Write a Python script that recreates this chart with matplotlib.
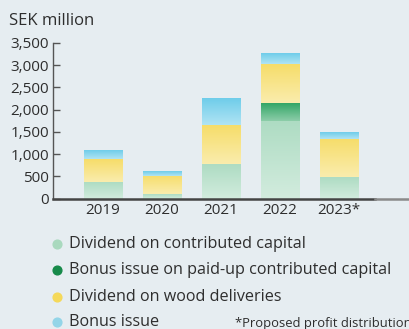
import numpy as np
import matplotlib
matplotlib.use("Agg")
import matplotlib.pyplot as plt
from matplotlib.colors import to_rgb
from matplotlib.lines import Line2D

# Profit distribution, SEK million
years = ["2019", "2020", "2021", "2022", "2023*"]
dividend_contributed = [375, 100, 785, 1740, 485]
bonus_paid_up = [0, 0, 0, 405, 0]
dividend_wood = [515, 410, 865, 875, 855]
bonus_issue = [180, 90, 585, 225, 135]

series_names = [
    "Dividend on contributed capital",
    "Bonus issue on paid-up contributed capital",
    "Dividend on wood deliveries",
    "Bonus issue",
]
series_values = [dividend_contributed, bonus_paid_up, dividend_wood, bonus_issue]
bar_colors = ["#aedcc3", "#2fa463", "#f6dd6a", "#6fcdea"]
legend_colors = ["#a9d9be", "#178a4a", "#f5d95a", "#93d5e8"]

y_ticks = [0, 500, 1000, 1500, 2000, 2500, 3000, 3500]

BG = "#e6edf1"
TEXT = "#2e2e2e"
W, H = 409, 329
plt.rcParams["font.family"] = ["Open Sans", "DejaVu Sans"]

fig = plt.figure(figsize=(W / 100, H / 100), dpi=100, facecolor=BG)
ax = fig.add_axes([53 / W, 1 - 198.7 / H, (375 - 53) / W, (198.7 - 43) / H])
ax.set_facecolor(BG)

x = np.arange(len(years))
width = 0.644


def gradient_bar(ax, xc, bottom, height, color):
    if height <= 0:
        return
    c = np.array(to_rgb(color))
    white = np.ones(3)
    t = np.linspace(0, 1, 64)[:, None]  # 0 at bottom, 1 at top
    lo = c * 0.55 + white * 0.45
    img = lo * (1 - t) + c * t
    ax.imshow(img[:, None, :], extent=[xc - width / 2, xc + width / 2, bottom, bottom + height],
              origin="lower", aspect="auto", interpolation="bilinear", zorder=2)


bottoms = np.zeros(len(years))
for vals, col in zip(series_values, bar_colors):
    for i, v in enumerate(vals):
        gradient_bar(ax, x[i], bottoms[i], v, col)
    bottoms += np.array(vals)

ax.set_xlim(-0.847, 4.61)
ax.set_ylim(0, 3500)
ax.set_xticks(x)
ax.set_xticklabels(years)
ax.set_yticks(y_ticks)
ax.set_yticklabels([f"{v:,}" for v in y_ticks])
ax.tick_params(axis="x", length=0, pad=3, labelsize=11, colors=TEXT)
ax.tick_params(axis="y", direction="in", length=5, width=1, pad=3, labelsize=11,
               colors="#555555", labelcolor=TEXT)
for s in ["top", "right"]:
    ax.spines[s].set_visible(False)
ax.spines["left"].set_color("#555555")
ax.spines["left"].set_linewidth(1)
ax.spines["bottom"].set_color("#444444")
ax.spines["bottom"].set_linewidth(1.8)
ax.spines["bottom"].set_zorder(5)

# grey continuation of the baseline
fig.add_artist(Line2D([375 / W, 1.0], [1 - 198.7 / H] * 2, color="#8a8a8a", lw=1.8))

fig.text(9 / W, 1 - 21 / H, "SEK million", fontsize=12, color=TEXT, va="center", ha="left")

rows = [244, 270, 297, 322]
for name, col, ry in zip(series_names, legend_colors, rows):
    fig.add_artist(Line2D([57 / W], [1 - ry / H], marker="o", markersize=6.3,
                          markerfacecolor=col, markeredgecolor=col, linestyle="none"))
    fig.text(69 / W, 1 - ry / H, name, fontsize=11.6, color=TEXT, va="center", ha="left")

fig.text(235 / W, 1 - 324 / H, "*Proposed profit distribution", fontsize=9.4, color=TEXT,
         va="center", ha="left")

fig.savefig("out.png", dpi=100, facecolor=BG)
